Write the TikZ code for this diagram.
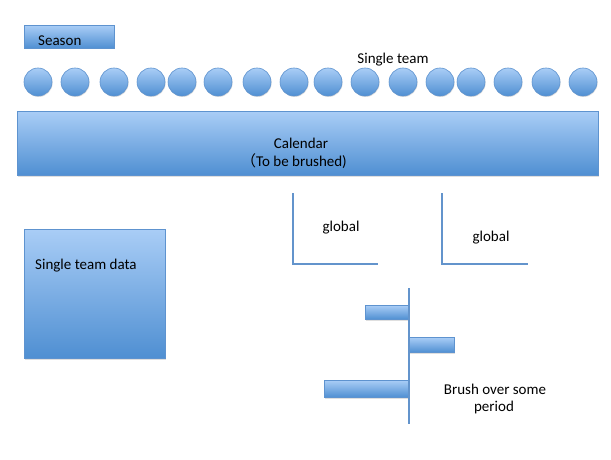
\documentclass[tikz,border=0pt]{standalone}
\usepackage{fontspec}
\setmainfont{Carlito}
\newfontfamily\cjkfont{Noto Sans CJK JP}
\usetikzlibrary{shadows}
\definecolor{topblue}{HTML}{A9CDF6}
\definecolor{botblue}{HTML}{4F8FD2}
\definecolor{edgeblue}{HTML}{5E93CF}
\definecolor{lineblue}{HTML}{6394CC}
\tikzset{
  box/.style={draw=edgeblue, line width=0.6pt, top color=topblue, bottom color=botblue,
    inner sep=0pt, anchor=north west,
    drop shadow={opacity=0.25, shadow xshift=0.8pt, shadow yshift=-1.2pt}},
  ball/.style={circle, draw=edgeblue, line width=0.6pt, top color=topblue, bottom color=botblue,
    inner sep=0pt, minimum size=28pt,
    drop shadow={opacity=0.25, shadow xshift=0.6pt, shadow yshift=-1pt}},
  lbl/.style={inner sep=0pt, font=\fontsize{15}{17}\selectfont, text=black},
  axis/.style={draw=lineblue, line width=1.6pt}
}
\begin{document}
\begin{tikzpicture}[x=1pt,y=-1pt]
\useasboundingbox[fill=white] (0,0) rectangle (611,460);
% Season
\node[box, minimum width=90pt, minimum height=23pt] (season) at (24,25) {};
\node[lbl, anchor=west] (seasontxt) at (38,41) {Season};
% circles
\foreach \i/\x in {1/38,2/75,3/114,4/151,5/182,6/218,7/257,8/294,9/328,10/365,11/403,12/440,13/471,14/508,15/546,16/583}
  \node[ball] (c\i) at (\x,82) {};
\node[lbl] (single) at (393,60) {Single team};
% Calendar
\node[box, minimum width=581pt, minimum height=64pt] (cal) at (17,111) {};
\node[lbl] (caltxt1) at (301,143) {Calendar};
\node[lbl] (caltxt2) at (294,161) {{\cjkfont （}To be brushed)};
% global axes
\coordinate (g1top) at (293,193);
\coordinate (g1o) at (293,264);
\coordinate (g1r) at (378,264);
\draw[axis] (g1top) -- (g1o) -- (g1r);
\node[lbl] (glob1) at (341,228) {global};
\coordinate (g2top) at (442,193);
\coordinate (g2o) at (442,264);
\coordinate (g2r) at (528,264);
\draw[axis] (g2top) -- (g2o) -- (g2r);
\node[lbl] (glob2) at (491,238) {global};
% Single team data
\node[box, minimum width=141pt, minimum height=129pt] (std) at (24,229) {};
\node[lbl, anchor=west] (stdtxt) at (35,266) {Single team data};
% brush bars
\node[box, minimum width=44pt, minimum height=14pt] (b1) at (365,305) {};
\node[box, minimum width=45pt, minimum height=15pt] (b2) at (409,337) {};
\node[box, minimum width=85pt, minimum height=17pt] (b3) at (324,380) {};
\coordinate (btop) at (409,288);
\coordinate (bbot) at (409,424);
\draw[axis] (btop) -- (bbot);
\node[lbl] (brush1) at (495,389) {Brush over some};
\node[lbl] (brush2) at (494,407) {period};
\end{tikzpicture}
\end{document}
